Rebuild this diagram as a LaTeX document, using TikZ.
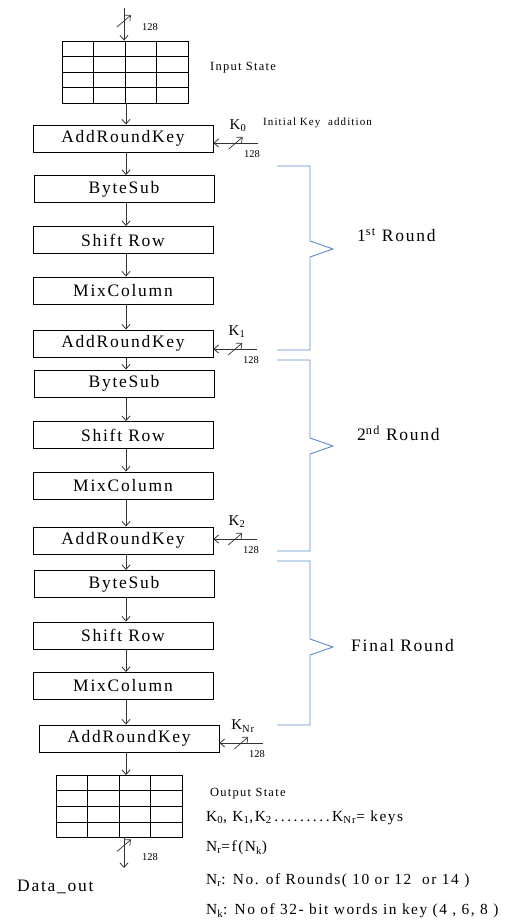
\documentclass[tikz,border=0pt]{standalone}
\usepackage{fontspec}
\setmainfont{Liberation Serif}
\newfontfamily\spacedfont[LetterSpace=10]{Liberation Serif}
\usetikzlibrary{positioning,arrows.meta,calc}
\definecolor{braceBlue}{HTML}{5B8BD0}

\begin{document}
\begin{tikzpicture}[
        x=1pt,
        y=-1pt,
        >={Straight Barb[length=4.5pt,width=8pt]},
        stage/.style={draw, line width=0.9pt, minimum width=180pt, minimum height=27pt, inner sep=0pt, font=\spacedfont\fontsize{17.5}{20}\selectfont},
        statebox/.style={draw, line width=0.9pt, minimum width=126pt, minimum height=62pt, inner sep=0pt},
        cell/.style={line width=0.9pt},
        flow/.style={->, line width=0.8pt, black!80},
        keylbl/.style={inner sep=0pt, font=\spacedfont\fontsize{15}{17}\selectfont},
        bits/.style={inner sep=0pt, font=\fontsize{10.5}{12}\selectfont},
        note/.style={anchor=west, inner sep=0pt, font=\spacedfont\fontsize{15.4}{17}\selectfont},
        small/.style={anchor=west, inner sep=0pt, font=\spacedfont\fontsize{11}{13}\selectfont},
        roundlbl/.style={anchor=west, inner sep=0pt, font=\spacedfont\fontsize{17.5}{20}\selectfont},
        bracket/.style={braceBlue, line width=0.9pt},
        busmark/.pic={\draw[line width=0.7pt] (-7,6) -- (7,-6);}
    ]
        \useasboundingbox (0,0) rectangle (513,920);

        % Zustandsmatrizen und Rundenstufen
        \node[statebox] (instate) at (125,72) {};
        \node[stage] (ark0) at (123,138.5) {AddRoundKey};
        \node[stage] (bs1) at (124,189) {ByteSub};
        \node[stage] (sr1) at (123,240) {Shift Row};
        \node[stage] (mc1) at (123,290.5) {MixColumn};
        \node[stage] (ark1) at (123,343.5) {AddRoundKey};
        \node[stage] (bs2) at (124,383.5) {ByteSub};
        \node[stage] (sr2) at (123,435) {Shift Row};
        \node[stage] (mc2) at (123,485.5) {MixColumn};
        \node[stage] (ark2) at (123,540.5) {AddRoundKey};
        \node[stage] (bs3) at (124,584) {ByteSub};
        \node[stage] (sr3) at (123,635.5) {Shift Row};
        \node[stage] (mc3) at (123,686) {MixColumn};
        \node[stage] (ark3) at (129,738.5) {AddRoundKey};
        \node[statebox] (outstate) at (119,806.5) {};

        \foreach \g in {instate,outstate}{
            \foreach \i in {1,2,3}{
                \draw[cell] ($(\g.north west)!\i/4!(\g.north east)$) -- ($(\g.south west)!\i/4!(\g.south east)$);
                \draw[cell] ($(\g.north west)!\i/4!(\g.south west)$) -- ($(\g.north east)!\i/4!(\g.south east)$);
            }
        }

        % Datenfluss
        \coordinate (ax) at (126,0);
        \coordinate (din) at (124,8);
        \coordinate (dout) at (124,868);
        \draw[flow] (din) -- (din |- instate.north) pic[pos=0.4]{busmark};
        \node[bits] (bin) at (150,27) {128};
        \draw[flow] (instate.south -| ax) -- (ark0.north -| ax);
        \foreach \a/\b in {ark0/bs1, bs1/sr1, sr1/mc1, mc1/ark1, ark1/bs2, bs2/sr2, sr2/mc2, mc2/ark2, ark2/bs3, bs3/sr3, sr3/mc3, mc3/ark3}
            \draw[flow] (\a.south -| ax) -- (\b.north -| ax);
        \draw[flow] (ark3.south -| ax) -- (outstate.north -| ax);
        \draw[flow] (outstate.south -| dout) -- (dout) pic[pos=0.25]{busmark};
        \node[bits] (bout) at (150,857) {128};

        % Rundenschluessel
        \foreach \stg/\kx/\ky/\klab in {ark0/258/143/0, ark1/257/349/1, ark2/257/539/2, ark3/263/743/Nr}{
            \coordinate (kin\klab) at (\kx,\ky);
            \draw[flow] (kin\klab) -- (kin\klab -| \stg.east) pic[pos=0.5]{busmark};
            \node[keylbl] (klbl\klab) at ($(kin\klab)+(-20,-17)$) {K\textsubscript{\klab}};
            \node[bits] (kbits\klab) at ($(kin\klab)+(-6,11)$) {128};
        }
        \node[small] (initk) at (263,123) {Initial Key\ \ addition};

        % Klammern der Runden
        \foreach \t/\m/\b in {166/249/350, 360/446/551, 561/647/725}
            \draw[bracket] (277,\t) -- (310,\t) -- (310,\m-8) -- (333,\m) -- (310,\m+8) -- (310,\b) -- (277,\b);
        \node[roundlbl] (rnd1) at (357,235) {1\textsuperscript{st} Round};
        \node[roundlbl] (rnd2) at (357,433) {2\textsuperscript{nd} Round};
        \node[roundlbl] (rnd3) at (351,646) {Final Round};

        % Beschriftungen
        \node[small, font=\spacedfont\fontsize{12.5}{14}\selectfont] (inlbl) at (210,68) {Input State};
        \node[small, font=\spacedfont\fontsize{12.5}{14}\selectfont] (outlbl) at (210,794) {Output State};
        \node[note] (keys) at (206,818) {K\textsubscript{0}, K\textsubscript{1},K\textsubscript{2}\,.\,.\,.\,.\,.\,.\,.\,.\,.\,K\textsubscript{Nr}= keys};
        \node[note] (nrf) at (206,848) {N\textsubscript{r}=f(N\textsubscript{k})};
        \node[note] (nrd) at (206,881) {N\textsubscript{r}: No. of Rounds( 10 or 12\ \ or 14 )};
        \node[note] (nkd) at (206,911) {N\textsubscript{k}: No of 32- bit words in key (4 , 6, 8 )};
        \node[roundlbl] (doutlbl) at (17,887) {Data\_out};
    \end{tikzpicture}
\end{document}
